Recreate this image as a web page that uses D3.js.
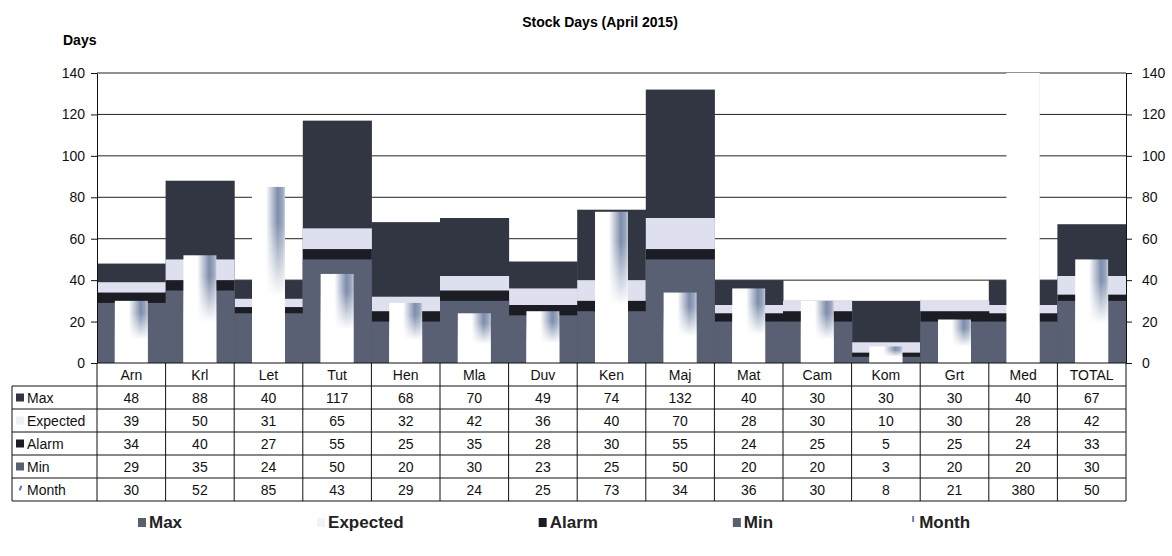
<!DOCTYPE html>
<html lang="en">
<head>
    <meta charset="UTF-8">
    <title>Stock Days (April 2015)</title>
    <style>
        body { margin: 0; background: #fff; }
        svg { display: block; font-family: "Liberation Sans", Arial, sans-serif; }
        .axis path, .axis line { stroke: #111; }
        .axis text { font-size: 14px; fill: #111; }
    </style>
</head>
<body>
    <svg width="1172" height="556"></svg>

    <script src="https://d3js.org/d3.v7.min.js"></script>
    <script>
        // data
        const categories = ["Arn", "Krl", "Let", "Tut", "Hen", "Mla", "Duv", "Ken", "Maj", "Mat", "Cam", "Kom", "Grt", "Med", "TOTAL"];
        const maxDays      = [48, 88, 40, 117, 68, 70, 49, 74, 132, 40, 30, 30, 30, 40, 67];
        const expectedDays = [39, 50, 31, 65, 32, 42, 36, 40, 70, 28, 30, 10, 30, 28, 42];
        const alarmDays    = [34, 40, 27, 55, 25, 35, 28, 30, 55, 24, 25, 5, 25, 24, 33];
        const minDays      = [29, 35, 24, 50, 20, 30, 23, 25, 50, 20, 20, 3, 20, 20, 30];
        const monthDays    = [30, 52, 85, 43, 29, 24, 25, 73, 34, 36, 30, 8, 21, 380, 50];
        const yTicks = [0, 20, 40, 60, 80, 100, 120, 140];

        const series = [
            { name: "Max", values: maxDays, color: "#323643" },
            { name: "Expected", values: expectedDays, color: "#dfe0ef" },
            { name: "Alarm", values: alarmDays, color: "#1c1d24" },
            { name: "Min", values: minDays, color: "#596073" },
            { name: "Month", values: monthDays, color: "url(#monthGrad)" }
        ];

        const svg = d3.select("svg");
        const plotLeft = 97, plotRight = 1126, plotTop = 73, plotBottom = 363;
        const rowH = 23, tableLeft = 12;

        const x = d3.scaleBand().domain(categories).range([plotLeft, plotRight]).padding(0);
        const y = d3.scaleLinear().domain([0, 140]).range([plotBottom, plotTop]);

        // gradients for the Month bars
        const defs = svg.append("defs");
        const g1 = defs.append("linearGradient").attr("id", "monthGrad")
            .attr("x1", 0).attr("y1", 0).attr("x2", 1).attr("y2", 0);
        [[0, "#ffffff"], [0.42, "#ffffff"], [0.78, "#7e8dab"], [0.92, "#98a5bd"], [1, "#c4cbd9"]]
            .forEach(s => g1.append("stop").attr("offset", s[0]).attr("stop-color", s[1]));
        const g2 = defs.append("linearGradient").attr("id", "monthFade")
            .attr("x1", 0).attr("y1", 0).attr("x2", 0).attr("y2", 1);
        [[0, 0], [0.2, 0], [0.62, 1], [1, 1]]
            .forEach(s => g2.append("stop").attr("offset", s[0]).attr("stop-color", "#fff").attr("stop-opacity", s[1]));
        defs.append("clipPath").attr("id", "plotClip")
            .append("rect").attr("x", plotLeft).attr("y", plotTop)
            .attr("width", plotRight - plotLeft).attr("height", plotBottom - plotTop);

        // title
        svg.append("text").attr("x", 600).attr("y", 27).attr("text-anchor", "middle")
            .attr("font-size", 14).attr("font-weight", "bold").text("Stock Days (April 2015)");
        svg.append("text").attr("x", 63).attr("y", 45)
            .attr("font-size", 14).attr("font-weight", "bold").text("Days");

        // gridlines
        svg.append("g").selectAll("line").data(yTicks.slice(1)).enter().append("line")
            .attr("x1", plotLeft).attr("x2", plotRight)
            .attr("y1", d => y(d)).attr("y2", d => y(d))
            .attr("stroke", "#222").attr("stroke-width", 1);

        // wide overlapping bars
        const plot = svg.append("g").attr("clip-path", "url(#plotClip)");
        series.slice(0, 4).forEach(s => {
            plot.append("g").selectAll("rect").data(s.values).enter().append("rect")
                .attr("x", (d, i) => x(categories[i]))
                .attr("width", x.bandwidth() + 0.5)
                .attr("y", d => y(d))
                .attr("height", d => y(0) - y(d))
                .attr("fill", s.color);
        });

        // narrow Month bars
        const mw = x.bandwidth() * 0.48;
        ["url(#monthGrad)", "url(#monthFade)"].forEach(fill => {
            plot.append("g").selectAll("rect").data(monthDays).enter().append("rect")
                .attr("x", (d, i) => x(categories[i]) + (x.bandwidth() - mw) / 2)
                .attr("width", mw)
                .attr("y", d => y(d))
                .attr("height", d => y(0) - y(d))
                .attr("fill", fill);
        });

        // axes
        svg.append("g").attr("class", "axis").attr("transform", `translate(${plotLeft},0)`)
            .call(d3.axisLeft(y).tickValues(yTicks).tickSize(6).tickPadding(6).tickSizeOuter(0));
        svg.append("g").attr("class", "axis").attr("transform", `translate(${plotRight},0)`)
            .call(d3.axisRight(y).tickValues(yTicks).tickSize(6).tickPadding(10).tickSizeOuter(0));
        svg.append("line").attr("x1", plotLeft).attr("x2", plotRight)
            .attr("y1", plotBottom).attr("y2", plotBottom).attr("stroke", "#111");

        // data table
        const table = svg.append("g").attr("font-size", 13).attr("fill", "#111");
        const tableBottom = plotBottom + rowH * (series.length + 1);
        d3.range(1, series.length + 2).forEach(r => {
            table.append("line").attr("x1", tableLeft).attr("x2", plotRight)
                .attr("y1", plotBottom + r * rowH).attr("y2", plotBottom + r * rowH).attr("stroke", "#111");
        });
        table.append("line").attr("x1", tableLeft).attr("x2", tableLeft)
            .attr("y1", plotBottom + rowH).attr("y2", tableBottom).attr("stroke", "#111");
        categories.forEach(c => {
            table.append("line").attr("x1", x(c)).attr("x2", x(c))
                .attr("y1", plotBottom).attr("y2", tableBottom).attr("stroke", "#111");
        });
        table.append("line").attr("x1", plotRight).attr("x2", plotRight)
            .attr("y1", plotBottom).attr("y2", tableBottom).attr("stroke", "#111");

        table.selectAll("text.head").data(categories).enter().append("text")
            .attr("class", "head")
            .attr("x", d => x(d) + x.bandwidth() / 2)
            .attr("y", plotBottom + rowH / 2 + 5)
            .attr("text-anchor", "middle").attr("font-size", 14).text(d => d);

        series.forEach((s, r) => {
            const cy = plotBottom + (r + 1) * rowH + rowH / 2;
            if (s.name === "Month") {
                table.append("rect").attr("x", 19).attr("y", cy - 4).attr("width", 2).attr("height", 5)
                    .attr("fill", "#5a78b0").attr("transform", `rotate(20,20,${cy})`);
            } else {
                table.append("rect").attr("x", 16).attr("y", cy - 4).attr("width", 8).attr("height", 8)
                    .attr("fill", s.name === "Expected" ? "#eef0f6" : s.color);
            }
            table.append("text").attr("x", 27).attr("y", cy + 5).attr("font-size", 14).text(s.name);
            table.append("g").selectAll("text").data(s.values).enter().append("text")
                .attr("x", (d, i) => x(categories[i]) + x.bandwidth() / 2)
                .attr("y", cy + 5)
                .attr("text-anchor", "middle").attr("font-size", 14).text(d => d);
        });

        // legend
        const legend = svg.append("g").attr("font-size", 17).attr("font-weight", "bold").attr("fill", "#222");
        let lx = 138;
        const ly = 522;
        series.forEach(s => {
            if (s.name === "Month") {
                legend.append("rect").attr("x", lx + 4).attr("y", ly - 6).attr("width", 2).attr("height", 6)
                    .attr("fill", "#6a80b0");
            } else {
                legend.append("rect").attr("x", lx).attr("y", ly - 4).attr("width", 8).attr("height", 9)
                    .attr("fill", s.name === "Expected" ? "#f2f3f8" : (s.name === "Max" ? "#5a5f6e" : s.color));
            }
            const t = legend.append("text").attr("x", lx + 11).attr("y", ly + 6).text(s.name);
            lx += 11 + t.node().getComputedTextLength() + 135;
        });
    </script>
</body>
</html>
